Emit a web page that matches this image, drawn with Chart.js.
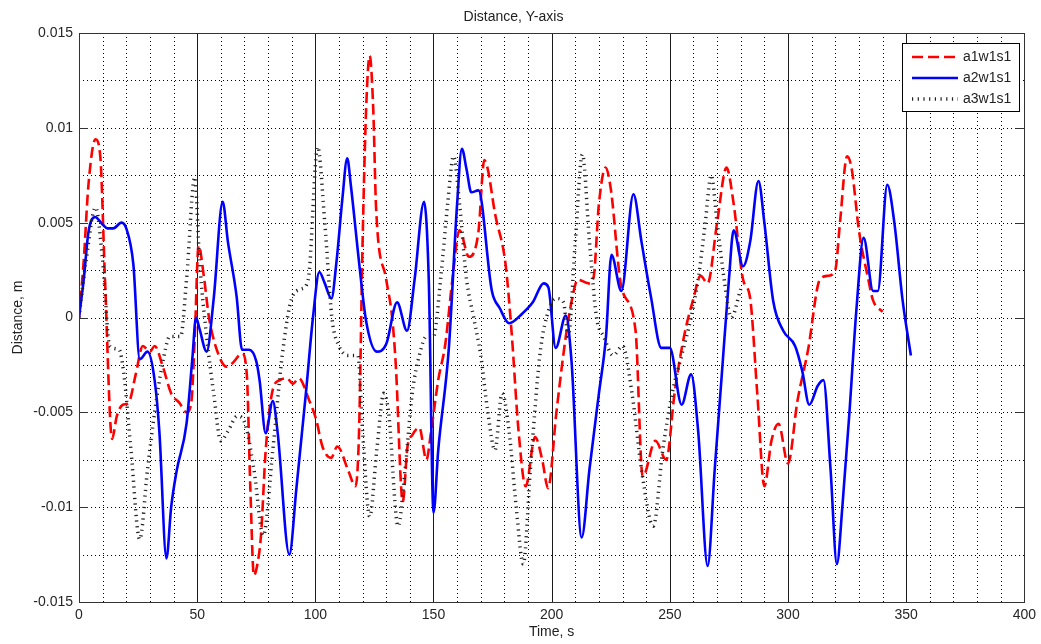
<!DOCTYPE html>
<html lang="en">
<head>
  <meta charset="UTF-8">
  <title>Distance, Y-axis</title>
  <script src="https://cdn.jsdelivr.net/npm/chart.js"></script>
  <style>
    html, body { margin: 0; padding: 0; background: #fff; }
    canvas { display: block; }
  </style>
</head>
<body>
  <canvas id="grafico" width="1041" height="644"></canvas>
  <script>
    // a1w1s1 (red dashed)
    const tempoA1 = [0, 2, 4, 7, 9, 11, 14, 16, 18.5, 21, 24, 27, 30, 32, 35.5, 39, 42.5, 45.5, 47.5, 49, 50.6, 53, 55, 59.5, 62.5, 65, 69, 71, 72.5, 74, 75.5, 77, 79, 82, 85, 88, 90.5, 93, 97.5, 100.4, 103, 106.7, 109.3, 114, 117, 118.5, 120, 121.5, 123, 124.5, 125.7, 130, 132.5, 134, 137, 139, 141, 144, 147, 149, 152, 155, 158, 161, 165, 169, 171.5, 173, 176, 180.5, 183, 186, 189, 193, 196, 198.5, 202, 206, 209, 211, 215.6, 217.7, 220, 222.8, 225, 229.5, 235.5, 238.5, 243.9, 248.5, 252, 256, 260, 263, 266, 270, 274, 277, 281, 284, 287, 290, 293, 296, 300, 304, 308.5, 313.5, 317, 320, 322, 325, 327, 330, 334, 336, 340];
    const distA1 = [0, 0.003, 0.007, 0.0094, 0.0085, 0.002, -0.0064, -0.0052, -0.0046, -0.0045, -0.003, -0.0015, -0.0018, -0.0015, -0.0026, -0.004, -0.0045, -0.005, -0.0045, -0.001, 0.0038, 0.002, 0, -0.0021, -0.0026, -0.0024, -0.0019, -0.003, -0.009, -0.0136, -0.013, -0.0115, -0.007, -0.0038, -0.0033, -0.0032, -0.0035, -0.0032, -0.0044, -0.0054, -0.0068, -0.0074, -0.0068, -0.0081, -0.0089, -0.006, 0.004, 0.011, 0.0138, 0.011, 0.0058, 0.002, 0, -0.0024, -0.0097, -0.0068, -0.0062, -0.0058, -0.0075, -0.006, -0.0033, -0.0014, 0.002, 0.0046, 0.0032, 0.0045, 0.0083, 0.0078, 0.0055, 0.0028, -0.0007, -0.006, -0.0089, -0.0063, -0.0075, -0.009, -0.005, -0.001, 0.0012, 0.002, 0.0018, 0.0021, 0.006, 0.0079, 0.0068, 0.0016, -0.0007, -0.0084, -0.0065, -0.0075, -0.004, -0.001, 0.001, 0.0022, 0.0018, 0.005, 0.0079, 0.006, 0.002, 0.001, -0.004, -0.0089, -0.0065, -0.0056, -0.0077, -0.0044, -0.0017, 0.002, 0.0022, 0.0025, 0.005, 0.0085, 0.0078, 0.0046, 0.002, 0.0009, 0.0003];

    // a2w1s1 (blue solid)
    const tempoA2 = [0, 2, 4, 6.8, 10, 12, 14.5, 18, 20, 23, 25.7, 29, 32, 34, 37, 39, 41.3, 45.5, 48, 49.5, 51, 54, 57, 60.8, 63, 66.7, 69, 72, 75, 76.4, 79, 82, 84, 89, 92, 96, 99, 101.7, 104, 106.8, 109, 111.4, 113.5, 115, 118.6, 121.5, 126, 130, 134.6, 138.8, 142, 146, 148, 150, 152, 156.5, 160, 162, 164, 166, 169, 174.7, 178, 182, 187.5, 192, 196.6, 198.6, 201.7, 206, 208.4, 212.7, 216, 220, 223, 225.3, 229.5, 234.6, 238, 242, 246.4, 250, 255, 259, 262, 266, 269, 272, 275, 277, 281, 284, 287.5, 290, 293.7, 298, 303, 306, 309, 312.6, 315, 318, 320.7, 323, 326, 329, 332, 336, 338, 342, 345, 348.5, 352];
    const distA2 = [0, 0.002, 0.0045, 0.0053, 0.0049, 0.0047, 0.0047, 0.005, 0.0047, 0.0028, -0.0022, -0.0018, -0.0033, -0.006, -0.0127, -0.01, -0.0081, -0.0056, -0.0021, 0, -0.0006, -0.0018, 0.001, 0.0061, 0.004, 0.0011, -0.0017, -0.0017, -0.0023, -0.0033, -0.0061, -0.0044, -0.006, -0.0125, -0.009, -0.004, 0, 0.0024, 0.0018, 0.001, 0.003, 0.0062, 0.0084, 0.007, 0.0028, -0.0002, -0.0018, -0.0014, 0.0008, -0.0007, 0.002, 0.0061, 0.002, -0.0103, -0.007, -0.0016, 0.006, 0.0089, 0.0078, 0.0066, 0.0067, 0.0014, 0.0005, -0.0003, 0.0002, 0.0008, 0.0018, 0.0016, -0.0016, 0.0001, -0.0023, -0.0116, -0.008, -0.004, -0.001, 0.0033, 0.0014, 0.0065, 0.004, 0.0011, -0.0016, -0.0016, -0.0046, -0.003, -0.006, -0.0131, -0.008, -0.003, 0.002, 0.0046, 0.0027, 0.004, 0.0072, 0.005, 0.0009, -0.0007, -0.0015, -0.0028, -0.0046, -0.0036, -0.0033, -0.008, -0.013, -0.01, -0.005, 0.0005, 0.0042, 0.0014, 0.0014, 0.007, 0.005, 0.0009, -0.002];

    // a3w1s1 (black dotted)
    const tempoA3 = [0, 3, 7, 10, 13, 17, 19, 22, 25.7, 29, 32, 36, 38.4, 41.3, 43, 45.5, 49, 51, 54, 57, 60, 63, 67, 70, 74, 78, 82, 86, 90, 94, 97, 101, 104, 107, 110, 114, 118, 120, 123, 126, 129, 131, 135, 138, 141, 144, 147, 150, 153, 156, 158.5, 161, 164, 167, 170, 173, 176, 179, 182, 185, 188, 191, 195, 199, 202, 205, 207, 210, 213, 216, 219, 222, 226, 230, 234, 238, 243, 247, 251, 255, 259, 262, 265, 267.5, 270, 273, 276, 280];
    const distA3 = [0, 0.003, 0.0058, 0.003, -0.0015, -0.0017, -0.003, -0.007, -0.0117, -0.008, -0.005, -0.002, -0.001, -0.001, -0.001, 0.002, 0.0074, 0.003, -0.001, -0.004, -0.0065, -0.006, -0.0052, -0.0055, -0.008, -0.0115, -0.007, -0.002, 0.001, 0.0015, 0.002, 0.009, 0.005, 0, -0.0015, -0.002, -0.002, -0.006, -0.0105, -0.007, -0.004, -0.005, -0.011, -0.008, -0.004, -0.002, -0.001, -0.001, 0.002, 0.006, 0.0085, 0.006, 0.002, 0, -0.002, -0.005, -0.007, -0.004, -0.006, -0.01, -0.013, -0.008, -0.002, 0.0005, 0.001, 0.0008, -0.001, 0.004, 0.0086, 0.004, 0, -0.001, -0.002, -0.0015, -0.004, -0.008, -0.011, -0.007, -0.004, -0.002, 0, 0.002, 0.005, 0.0075, 0.005, 0.002, 0, 0.0015];

    const ticksX = [0, 50, 100, 150, 200, 250, 300, 350, 400];
    const ticksY = [-0.015, -0.01, -0.005, 0, 0.005, 0.01, 0.015];

    const pontos = (ts, vs) => ts.map((t, i) => ({ x: t, y: vs[i] }));

    // grid MATLAB: pontilhado a cada 10 s / 0.0025 m, linhas cheias a cada 50 s
    const grade = {
      id: 'grade',
      beforeDatasetsDraw(chart) {
        const { ctx, chartArea: a, scales: { x, y } } = chart;
        ctx.save();
        ctx.lineWidth = 1;
        ctx.strokeStyle = '#000';
        ctx.setLineDash([1, 3]);
        for (let t = 10; t < 400; t += 10) {
          if (t % 50 === 0) continue;
          const px = Math.round(x.getPixelForValue(t)) + 0.5;
          ctx.beginPath(); ctx.moveTo(px, a.top); ctx.lineTo(px, a.bottom); ctx.stroke();
        }
        for (let k = -5; k <= 5; k++) {
          const py = Math.round(y.getPixelForValue(k * 0.0025)) + 0.5;
          ctx.beginPath(); ctx.moveTo(a.left, py); ctx.lineTo(a.right, py); ctx.stroke();
        }
        ctx.setLineDash([]);
        ctx.strokeStyle = '#1a1a1a';
        for (let t = 50; t < 400; t += 50) {
          const px = Math.round(x.getPixelForValue(t)) + 0.5;
          ctx.beginPath(); ctx.moveTo(px, a.top); ctx.lineTo(px, a.bottom); ctx.stroke();
        }
        ctx.restore();
      },
      afterDatasetsDraw(chart) {
        const { ctx, chartArea: a, scales: { y } } = chart;
        ctx.save();
        ctx.strokeStyle = '#333';
        ctx.lineWidth = 1;
        ctx.strokeRect(Math.round(a.left) + 0.5, Math.round(a.top) + 0.5, Math.round(a.right - a.left), Math.round(a.bottom - a.top));
        ticksY.forEach(v => {
          const py = Math.round(y.getPixelForValue(v)) + 0.5;
          ctx.beginPath();
          ctx.moveTo(a.left, py); ctx.lineTo(a.left + 9, py);
          ctx.moveTo(a.right, py); ctx.lineTo(a.right - 9, py);
          ctx.stroke();
        });

        // legenda
        const bx = 902, by = 43, bw = 117, bh = 68;
        ctx.fillStyle = '#fff';
        ctx.fillRect(bx, by, bw, bh);
        ctx.strokeStyle = '#000';
        ctx.strokeRect(bx + 0.5, by + 0.5, bw, bh);
        ctx.font = '14px "Liberation Sans", Arial, sans-serif';
        ctx.textBaseline = 'middle';
        chart.data.datasets.forEach((ds, i) => {
          const ly = by + 14 + i * 21;
          ctx.save();
          ctx.strokeStyle = ds.borderColor;
          ctx.lineWidth = ds.borderWidth;
          ctx.setLineDash(ds.borderDash || []);
          ctx.beginPath(); ctx.moveTo(912, ly); ctx.lineTo(958, ly); ctx.stroke();
          ctx.restore();
          ctx.fillStyle = '#222';
          ctx.fillText(ds.label, 963, ly);
        });
        ctx.restore();
      }
    };

    new Chart(document.getElementById('grafico'), {
      type: 'line',
      data: {
        datasets: [
          {
            label: 'a1w1s1',
            data: pontos(tempoA1, distA1),
            borderColor: '#ff0000',
            borderWidth: 2.6,
            borderDash: [11, 5],
            order: 3
          },
          {
            label: 'a2w1s1',
            data: pontos(tempoA2, distA2),
            borderColor: '#0000ff',
            borderWidth: 2.6,
            order: 2
          },
          {
            label: 'a3w1s1',
            data: pontos(tempoA3, distA3),
            borderColor: '#222',
            borderWidth: 3.5,
            borderDash: [1.2, 4.5],
            order: 1
          }
        ]
      },
      options: {
        responsive: false,
        animation: false,
        devicePixelRatio: 1,
        layout: { padding: { left: 0, right: 14, top: 0, bottom: 0 } },
        elements: {
          point: { radius: 0 },
          line: { cubicInterpolationMode: 'monotone', borderCapStyle: 'butt' }
        },
        plugins: {
          legend: { display: false },
          tooltip: { enabled: false },
          title: {
            display: true,
            text: 'Distance, Y-axis',
            color: '#222',
            font: { family: '"Liberation Sans", Arial, sans-serif', size: 14, weight: 'normal' },
            padding: { top: 8.6, bottom: 7.6 }
          }
        },
        scales: {
          x: {
            type: 'linear',
            min: 0,
            max: 400,
            afterBuildTicks: s => { s.ticks = ticksX.map(v => ({ value: v })); },
            afterFit: s => { s.height = 42; },
            grid: { display: false, drawTicks: false },
            border: { display: false },
            ticks: {
              padding: 5,
              color: '#262626',
              font: { family: '"Liberation Sans", Arial, sans-serif', size: 14 }
            },
            title: {
              display: true,
              text: 'Time, s',
              color: '#222',
              font: { family: '"Liberation Sans", Arial, sans-serif', size: 14 },
              padding: { top: 0, bottom: 3.6 }
            }
          },
          y: {
            type: 'linear',
            min: -0.015,
            max: 0.015,
            afterBuildTicks: s => { s.ticks = ticksY.map(v => ({ value: v })); },
            afterFit: s => { s.width = 79; },
            grid: { display: false, drawTicks: false },
            border: { display: false },
            ticks: {
              padding: 6,
              color: '#262626',
              font: { family: '"Liberation Sans", Arial, sans-serif', size: 14 },
              callback: v => String(Number(v.toFixed(4)))
            },
            title: {
              display: true,
              text: 'Distance, m',
              color: '#222',
              font: { family: '"Liberation Sans", Arial, sans-serif', size: 14 },
              padding: { top: 9.6, bottom: 0 }
            }
          }
        }
      },
      plugins: [grade]
    });
  </script>
</body>
</html>
